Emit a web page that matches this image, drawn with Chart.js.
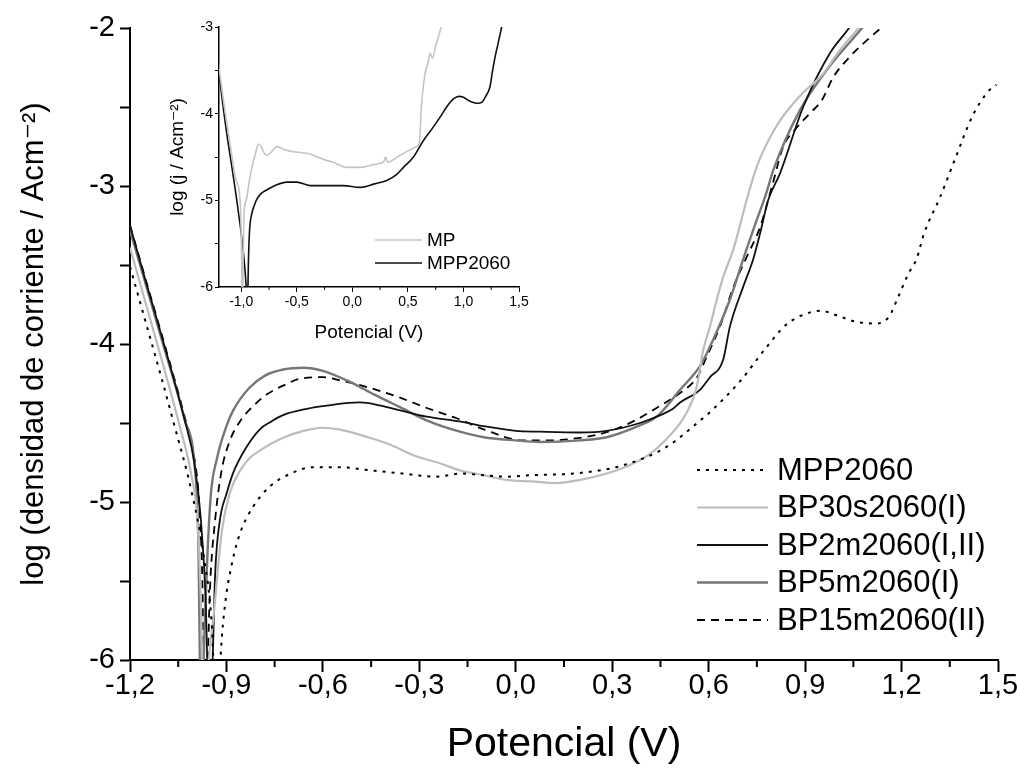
<!DOCTYPE html>
<html>
<head>
<meta charset="utf-8">
<script src="https://cdn.jsdelivr.net/npm/chart.js@4.4.0/dist/chart.umd.min.js"></script>
<style>
  body { margin: 0; background: #fff; }
  #wrap { position: relative; width: 1017px; height: 774px; }
  #mainChart { position: absolute; left: 0; top: 0; }
  #insetChart { position: absolute; left: 150px; top: 0; }
</style>
</head>
<body>
<div id="wrap">
  <canvas id="mainChart" width="1017" height="774"></canvas>
  <canvas id="insetChart" width="400" height="350"></canvas>
</div>
<script>
// --- DATA: main plot (potential in V, log current density) ---
const mppX = [-1.2, -1.15, -1.10, -1.06, -1.01, -0.97, -0.945, -0.93, -0.917, -0.905, -0.883, -0.858, -0.817, -0.764, -0.70, -0.63, -0.55, -0.45, -0.35, -0.25, -0.17, -0.10, -0.03, 0.05, 0.18, 0.33, 0.47, 0.57, 0.61, 0.70, 0.78, 0.84, 0.90, 0.95, 1.00, 1.06, 1.12, 1.16, 1.19, 1.22, 1.247, 1.27, 1.32, 1.37, 1.42, 1.47, 1.495];
const mppY = [-3.51, -3.87, -4.23, -4.53, -4.92, -5.35, -5.8, -6.5, -5.94, -5.66, -5.39, -5.20, -5.03, -4.90, -4.82, -4.78, -4.78, -4.80, -4.82, -4.84, -4.82, -4.83, -4.84, -4.83, -4.82, -4.77, -4.65, -4.49, -4.42, -4.23, -4.02, -3.88, -3.81, -3.79, -3.82, -3.86, -3.87, -3.83, -3.70, -3.56, -3.46, -3.30, -3.07, -2.81, -2.56, -2.40, -2.36];

const bp30sX = [-1.2, -1.15, -1.10, -1.044, -1.01, -0.99, -0.98, -0.97, -0.955, -0.94, -0.914, -0.889, -0.857, -0.827, -0.80, -0.76, -0.72, -0.66, -0.60, -0.55, -0.46, -0.40, -0.31, -0.236, -0.174, -0.10, -0.03, 0.05, 0.127, 0.20, 0.283, 0.35, 0.407, 0.46, 0.53, 0.563, 0.583, 0.604, 0.625, 0.646, 0.677, 0.718, 0.749, 0.811, 0.884, 0.956, 1.008, 1.071, 1.10];
const bp30sY = [-3.39, -3.75, -4.11, -4.53, -4.82, -5.12, -5.6, -6.5, -6.0, -5.72, -5.18, -4.94, -4.80, -4.72, -4.68, -4.63, -4.59, -4.55, -4.53, -4.54, -4.59, -4.63, -4.71, -4.755, -4.80, -4.83, -4.86, -4.87, -4.88, -4.86, -4.82, -4.77, -4.71, -4.62, -4.44, -4.27, -4.04, -3.89, -3.72, -3.57, -3.40, -3.09, -2.88, -2.62, -2.43, -2.29, -2.14, -1.99, -1.92];

const bp2mX = [-1.2, -1.15, -1.10, -1.03, -1.0, -0.98, -0.965, -0.952, -0.943, -0.935, -0.92, -0.90, -0.88, -0.84, -0.796, -0.76, -0.724, -0.65, -0.588, -0.485, -0.42, -0.36, -0.277, -0.174, -0.10, 0.0, 0.075, 0.20, 0.283, 0.386, 0.45, 0.489, 0.511, 0.573, 0.604, 0.645, 0.666, 0.707, 0.739, 0.76, 0.785, 0.822, 0.894, 0.977, 1.04, 1.06];
const bp2mY = [-3.25, -3.61, -3.96, -4.48, -4.75, -5.1, -5.6, -6.5, -6.0, -5.45, -5.11, -4.95, -4.82, -4.66, -4.54, -4.49, -4.45, -4.41, -4.39, -4.37, -4.39, -4.42, -4.46, -4.49, -4.52, -4.55, -4.555, -4.56, -4.55, -4.50, -4.45, -4.41, -4.37, -4.29, -4.21, -4.10, -3.89, -3.64, -3.46, -3.30, -3.09, -2.92, -2.50, -2.16, -1.99, -1.92];

const bp5mX = [-1.2, -1.15, -1.10, -1.03, -1.0, -0.988, -0.978, -0.968, -0.95, -0.93, -0.90, -0.879, -0.83, -0.78, -0.72, -0.661, -0.60, -0.516, -0.44, -0.36, -0.27, -0.174, -0.10, 0.0, 0.075, 0.20, 0.283, 0.38, 0.438, 0.511, 0.573, 0.594, 0.666, 0.708, 0.74, 0.78, 0.801, 0.884, 0.977, 1.081, 1.10];
const bp5mY = [-3.28, -3.63, -3.98, -4.48, -4.75, -5.2, -6.5, -5.8, -4.99, -4.73, -4.52, -4.42, -4.28, -4.20, -4.16, -4.15, -4.17, -4.24, -4.32, -4.40, -4.49, -4.555, -4.59, -4.61, -4.62, -4.61, -4.59, -4.52, -4.46, -4.29, -4.14, -4.06, -3.72, -3.46, -3.27, -3.04, -2.90, -2.52, -2.24, -1.99, -1.94];

const bp15mX = [-1.2, -1.15, -1.10, -1.03, -1.0, -0.985, -0.975, -0.967, -0.958, -0.951, -0.935, -0.915, -0.889, -0.858, -0.81, -0.775, -0.72, -0.671, -0.60, -0.547, -0.45, -0.36, -0.27, -0.184, -0.10, 0.023, 0.10, 0.178, 0.28, 0.365, 0.45, 0.511, 0.564, 0.594, 0.635, 0.677, 0.718, 0.76, 0.80, 0.832, 0.87, 0.915, 0.951, 0.988, 1.04, 1.091, 1.143, 1.17];
const bp15mY = [-3.25, -3.60, -3.95, -4.46, -4.72, -5.0, -5.5, -6.5, -6.0, -5.54, -5.11, -4.80, -4.61, -4.49, -4.38, -4.32, -4.26, -4.22, -4.21, -4.23, -4.28, -4.34, -4.41, -4.47, -4.54, -4.61, -4.61, -4.60, -4.56, -4.49, -4.39, -4.31, -4.21, -4.08, -3.89, -3.64, -3.45, -3.26, -2.98, -2.75, -2.64, -2.54, -2.46, -2.31, -2.18, -2.08, -1.99, -1.95];

// --- DATA: inset ---
const mpInsetX = [-1.213, -1.16, -1.10, -1.05, -1.01, -1.0, -0.995, -0.99, -0.982, -0.972, -0.955, -0.93, -0.904, -0.87, -0.845, -0.82, -0.80, -0.769, -0.72, -0.68, -0.60, -0.53, -0.40, -0.23, -0.173, -0.05, 0.07, 0.22, 0.28, 0.30, 0.315, 0.43, 0.58, 0.605, 0.62, 0.654, 0.68, 0.70, 0.72, 0.75, 0.80, 0.82];
const mpInsetY = [-3.35, -3.85, -4.35, -4.75, -5.0, -5.4, -5.8, -6.3, -5.6, -5.1, -5.0, -4.8, -4.62, -4.45, -4.35, -4.38, -4.44, -4.48, -4.43, -4.38, -4.42, -4.44, -4.46, -4.54, -4.56, -4.62, -4.62, -4.58, -4.56, -4.50, -4.56, -4.48, -4.38, -4.33, -3.95, -3.54, -3.42, -3.30, -3.36, -3.22, -3.0, -2.9];

const mppInsetX = [-1.213, -1.17, -1.13, -1.08, -1.04, -0.98, -0.955, -0.945, -0.935, -0.925, -0.904, -0.88, -0.86, -0.82, -0.77, -0.68, -0.59, -0.50, -0.38, -0.20, -0.08, 0.07, 0.20, 0.31, 0.40, 0.46, 0.55, 0.64, 0.72, 0.79, 0.85, 0.91, 0.96, 1.0, 1.05, 1.09, 1.13, 1.164, 1.20, 1.239, 1.26, 1.284, 1.31, 1.344, 1.36];
const mppInsetY = [-3.38, -3.85, -4.23, -4.65, -5.0, -5.61, -6.0, -6.3, -5.7, -5.35, -5.15, -5.05, -4.99, -4.92, -4.88, -4.82, -4.79, -4.79, -4.83, -4.83, -4.83, -4.85, -4.81, -4.77, -4.70, -4.62, -4.50, -4.31, -4.17, -4.04, -3.92, -3.83, -3.80, -3.81, -3.85, -3.87, -3.88, -3.87, -3.80, -3.69, -3.52, -3.35, -3.20, -3.0, -2.9];

// --- AXES ---
const xTicks = [-1.2, -0.9, -0.6, -0.3, 0.0, 0.3, 0.6, 0.9, 1.2, 1.5];
const xMinor = [-1.05, -0.75, -0.45, -0.15, 0.15, 0.45, 0.75, 1.05, 1.35];
const yTicks = [-6, -5.5, -5, -4.5, -4, -3.5, -3, -2.5, -2];
const insetXTicks = [-1.0, -0.5, 0.0, 0.5, 1.0, 1.5];
const insetXMinor = [-0.75, -0.25, 0.25, 0.75, 1.25];
const insetYTicks = [-6, -5.5, -5, -4.5, -4, -3.5, -3];

const FONT = '"Liberation Sans", Arial, "DejaVu Sans", sans-serif';
Chart.defaults.font.family = FONT;
Chart.defaults.color = '#000';

const pts = (xs, ys) => xs.map((x, i) => ({ x, y: ys[i] }));
const comma = v => (Math.abs(v) < 1e-9 ? 0 : v).toFixed(1).replace('.', ',');

// legend drawn as short line samples + labels
const lineLegend = {
    id: 'lineLegend',
    afterDraw(chart, args, o) {
        const ctx = chart.ctx;
        chart.data.datasets.forEach((ds, i) => {
            const y = o.y0 + i * o.dy;
            ctx.save();
            ctx.strokeStyle = ds.borderColor;
            ctx.lineWidth = ds.borderWidth;
            ctx.setLineDash(ds.borderDash || []);
            ctx.beginPath();
            ctx.moveTo(o.x0, y);
            ctx.lineTo(o.x1, y);
            ctx.stroke();
            ctx.setLineDash([]);
            ctx.fillStyle = '#000';
            ctx.font = o.size + 'px ' + FONT;
            ctx.textBaseline = 'middle';
            ctx.fillText(ds.label, o.textX, y + 1);
            ctx.restore();
        });
    }
};

// short minor ticks on the x axis
const minorTicks = {
    id: 'minorTicks',
    afterDraw(chart, args, o) {
        const { ctx, scales: { x } } = chart;
        ctx.save();
        ctx.strokeStyle = '#000';
        ctx.lineWidth = o.width;
        o.values.forEach(v => {
            const px = x.getPixelForValue(v);
            ctx.beginPath();
            ctx.moveTo(px, x.top);
            ctx.lineTo(px, x.top + o.len);
            ctx.stroke();
        });
        ctx.restore();
    }
};

function series(label, xs, ys, color, width, dash) {
    return {
        label, data: pts(xs, ys),
        borderColor: color, borderWidth: width, borderDash: dash,
        pointRadius: 0, fill: false, cubicInterpolationMode: 'monotone'
    };
}

// --- MAIN CHART ---
new Chart(document.getElementById('mainChart'), {
    type: 'line',
    data: {
        datasets: [
            series('MPP2060', mppX, mppY, '#000', 2, [3, 6]),
            series('BP30s2060(I)', bp30sX, bp30sY, '#bdbdbd', 2.2, []),
            series('BP2m2060(I,II)', bp2mX, bp2mY, '#111', 1.8, []),
            series('BP5m2060(I)', bp5mX, bp5mY, '#777', 2.4, []),
            series('BP15m2060(II)', bp15mX, bp15mY, '#000', 1.8, [8, 6])
        ]
    },
    options: {
        responsive: false,
        animation: false,
        devicePixelRatio: 1,
        layout: { padding: { left: 13, right: 19, top: 28, bottom: 2 } },
        plugins: {
            legend: { display: false },
            tooltip: { enabled: false },
            lineLegend: { x0: 697, x1: 768, textX: 777, y0: 470, dy: 37.5, size: 31 },
            minorTicks: { values: xMinor, len: 7, width: 2 }
        },
        scales: {
            x: {
                type: 'linear', min: -1.2, max: 1.5,
                afterBuildTicks: s => { s.ticks = xTicks.map(v => ({ value: v })); },
                afterFit: s => { s.height = 112; },
                border: { display: true, color: '#000', width: 2 },
                grid: { drawOnChartArea: false, tickLength: 12, tickWidth: 2, tickColor: '#000' },
                ticks: { font: { size: 29 }, padding: -3, maxRotation: 0, autoSkip: false, callback: v => comma(v) },
                title: { display: true, text: 'Potencial (V)', font: { size: 41 }, padding: { top: 0, bottom: 3 } }
            },
            y: {
                min: -6, max: -2,
                afterBuildTicks: s => { s.ticks = yTicks.map(v => ({ value: v })); },
                afterFit: s => { s.width = 117; },
                border: { display: true, color: '#000', width: 2 },
                grid: { drawOnChartArea: false, tickLength: 10, tickWidth: 2, tickColor: '#000' },
                ticks: { font: { size: 29 }, padding: 5, autoSkip: false, callback: v => (Number.isInteger(v) ? String(v) : '') },
                title: { display: true, text: 'log (densidad de corriente / Acm\u207B\u00B2)', font: { size: 31 }, padding: { top: 3, bottom: 0 } }
            }
        }
    },
    plugins: [lineLegend, minorTicks]
});

// --- INSET ---
new Chart(document.getElementById('insetChart'), {
    type: 'line',
    data: {
        datasets: [
            series('MP', mpInsetX, mpInsetY, '#c4c4c4', 1.6, []),
            series('MPP2060', mppInsetX, mppInsetY, '#111', 1.6, [])
        ]
    },
    options: {
        responsive: false,
        animation: false,
        devicePixelRatio: 1,
        layout: { padding: { left: 16, right: 31, top: 27, bottom: 6 } },
        plugins: {
            legend: { display: false },
            tooltip: { enabled: false },
            lineLegend: { x0: 225, x1: 272, textX: 277, y0: 240, dy: 23, size: 19 },
            minorTicks: { values: insetXMinor, len: 3, width: 1 }
        },
        scales: {
            x: {
                type: 'linear', min: -1.2, max: 1.5,
                afterBuildTicks: s => { s.ticks = insetXTicks.map(v => ({ value: v })); },
                afterFit: s => { s.height = 57; },
                border: { display: true, color: '#000', width: 1.5 },
                grid: { drawOnChartArea: false, tickLength: 5, tickWidth: 1, tickColor: '#000' },
                ticks: { font: { size: 14 }, padding: 2, maxRotation: 0, autoSkip: false, callback: v => comma(v) },
                title: { display: true, text: 'Potencial (V)', font: { size: 19 }, padding: { top: 0, bottom: 0 } }
            },
            y: {
                min: -6, max: -3,
                afterBuildTicks: s => { s.ticks = insetYTicks.map(v => ({ value: v })); },
                afterFit: s => { s.width = 53; },
                border: { display: true, color: '#000', width: 1.5 },
                grid: { drawOnChartArea: false, tickLength: 4, tickWidth: 1, tickColor: '#000' },
                ticks: { font: { size: 14 }, padding: 2, autoSkip: false, callback: v => (Number.isInteger(v) ? String(v) : '') },
                title: { display: true, text: 'log (j / Acm\u207B\u00B2)', font: { size: 19 }, padding: { top: 0, bottom: 0 } }
            }
        }
    },
    plugins: [lineLegend, minorTicks]
});
</script>
</body>
</html>
